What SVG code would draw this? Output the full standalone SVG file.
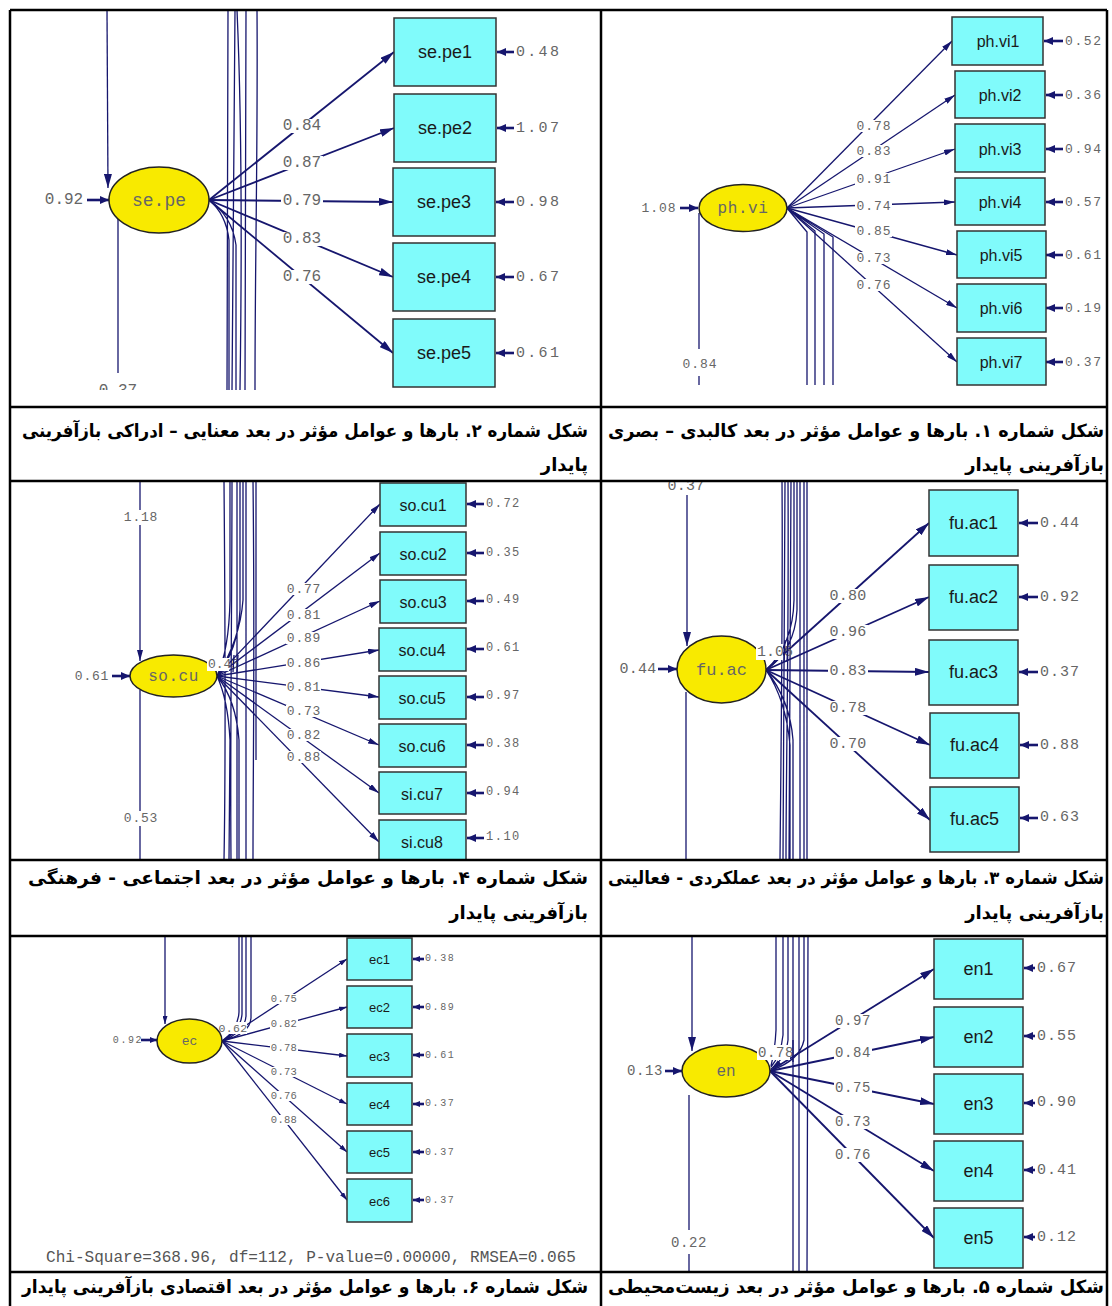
<svg xmlns="http://www.w3.org/2000/svg" width="1112" height="1306" viewBox="0 0 1112 1306">
<style>
.ln{stroke:#16166e;stroke-width:1.3;fill:none}
.fan{stroke:#16166e;stroke-width:1.8;fill:none}
.fan2{stroke:#16166e;stroke-width:1.3;fill:none}
.err{stroke:#16166e;stroke-width:2.6;fill:none}
.box{fill:#80fbfb;stroke:#333;stroke-width:1.5}
.lat{fill:#f8ea00;stroke:#222;stroke-width:1.5}
.num{font-family:"Liberation Mono","Courier New",monospace;fill:#666;dominant-baseline:central}
.lab{font-family:"Liberation Sans",Arial,sans-serif;fill:#1a1a1a;text-anchor:middle;dominant-baseline:central}
.bg{fill:#fff}
.cap{font-family:"DejaVu Sans",sans-serif;font-weight:bold;font-size:18px;fill:#000}
.grid{stroke:#000;stroke-width:2.5;fill:none}
.mid{text-anchor:middle}
</style>
<defs>
<marker id="mA" viewBox="0 0 14 8" refX="14" refY="4" markerWidth="14" markerHeight="8" markerUnits="userSpaceOnUse" orient="auto"><path d="M0,0 L14,4 L0,8 z" fill="#16166e"/></marker>
<marker id="mB" viewBox="0 0 11 6" refX="11" refY="3" markerWidth="11" markerHeight="6" markerUnits="userSpaceOnUse" orient="auto"><path d="M0,0 L11,3 L0,6 z" fill="#16166e"/></marker>
<marker id="mC" viewBox="0 0 8 5" refX="8" refY="2.5" markerWidth="8" markerHeight="5" markerUnits="userSpaceOnUse" orient="auto"><path d="M0,0 L8,2.5 L0,5 z" fill="#16166e"/></marker>
<marker id="mE" viewBox="0 0 9 8" refX="9" refY="4" markerWidth="9" markerHeight="8" markerUnits="userSpaceOnUse" orient="auto"><path d="M0,0 L9,4 L0,8 z" fill="#16166e"/></marker>
<marker id="mF" viewBox="0 0 7 6" refX="7" refY="3" markerWidth="7" markerHeight="6" markerUnits="userSpaceOnUse" orient="auto"><path d="M0,0 L7,3 L0,6 z" fill="#16166e"/></marker>
<clipPath id="c1"><rect x="11" y="11" width="589" height="379"/></clipPath>
<clipPath id="c2"><rect x="602" y="11" width="504" height="395"/></clipPath>
<clipPath id="c3"><rect x="11" y="482" width="589" height="377"/></clipPath>
<clipPath id="c4"><rect x="602" y="482" width="504" height="377"/></clipPath>
<clipPath id="c5"><rect x="11" y="937" width="589" height="334"/></clipPath>
<clipPath id="c6"><rect x="602" y="937" width="504" height="334"/></clipPath>
</defs>
<rect width="1112" height="1306" fill="#fff"/>

<!-- ===== Figure 2 (top-left): se.pe ===== -->
<g id="fig2" clip-path="url(#c1)">
<g id="fig2-connectors">
<path class="ln" d="M228,10 L227,390 M235,10 C234,120 233,250 232,390 M237,10 C241,100 242,250 240,390 M246,10 L245,390 M257,10 C258,150 255,250 255,390 M209,200 Q226,214 229,240 L229,390 M209,200 Q232,216 236,245 L236,390"/>
<line class="ln" x1="107" y1="10" x2="108" y2="188" marker-end="url(#mA)"/>
<line class="ln" x1="118" y1="219" x2="118" y2="373"/>
<line class="err" x1="87" y1="200" x2="109" y2="200" marker-end="url(#mE)"/>
<line class="fan" x1="209" y1="200" x2="394" y2="52" marker-end="url(#mA)"/>
<line class="fan" x1="209" y1="200" x2="394" y2="128" marker-end="url(#mA)"/>
<line class="fan" x1="209" y1="200" x2="393" y2="202" marker-end="url(#mA)"/>
<line class="fan" x1="209" y1="200" x2="393" y2="277" marker-end="url(#mA)"/>
<line class="fan" x1="209" y1="200" x2="393" y2="353" marker-end="url(#mA)"/>
<line class="err" x1="514" y1="52" x2="497" y2="52" marker-end="url(#mE)"/>
<line class="err" x1="514" y1="128" x2="497" y2="128" marker-end="url(#mE)"/>
<line class="err" x1="514" y1="202" x2="496" y2="202" marker-end="url(#mE)"/>
<line class="err" x1="514" y1="277" x2="496" y2="277" marker-end="url(#mE)"/>
<line class="err" x1="514" y1="353" x2="496" y2="353" marker-end="url(#mE)"/>
<g font-size="16">
<rect class="bg" x="281" y="119" width="42" height="14"/><text class="num mid" x="302" y="126">0.84</text>
<rect class="bg" x="281" y="156" width="42" height="14"/><text class="num mid" x="302" y="163">0.87</text>
<rect class="bg" x="281" y="194" width="42" height="14"/><text class="num mid" x="302" y="201">0.79</text>
<rect class="bg" x="281" y="232" width="42" height="14"/><text class="num mid" x="302" y="239">0.83</text>
<rect class="bg" x="281" y="270" width="42" height="14"/><text class="num mid" x="302" y="277">0.76</text>
<text class="num mid" x="64" y="200">0.92</text>
<text class="num mid" x="118" y="391">0.37</text>
</g>
<g font-size="15" letter-spacing="2.3">
<text class="num" x="516" y="52">0.48</text>
<text class="num" x="516" y="128">1.07</text>
<text class="num" x="516" y="202">0.98</text>
<text class="num" x="516" y="277">0.67</text>
<text class="num" x="516" y="353">0.61</text>
</g>
</g>
<g id="se.pe"><ellipse class="lat" cx="159" cy="200" rx="50" ry="33"/><text class="num mid" x="159" y="201" font-size="18">se.pe</text></g>
<g id="se.pe1"><rect class="box" x="394" y="18" width="102" height="68"/><text class="lab" x="445" y="52" font-size="18">se.pe1</text></g>
<g id="se.pe2"><rect class="box" x="394" y="94" width="102" height="68"/><text class="lab" x="445" y="128" font-size="18">se.pe2</text></g>
<g id="se.pe3"><rect class="box" x="393" y="168" width="102" height="68"/><text class="lab" x="444" y="202" font-size="18">se.pe3</text></g>
<g id="se.pe4"><rect class="box" x="393" y="243" width="102" height="68"/><text class="lab" x="444" y="277" font-size="18">se.pe4</text></g>
<g id="se.pe5"><rect class="box" x="393" y="319" width="102" height="68"/><text class="lab" x="444" y="353" font-size="18">se.pe5</text></g>
</g>

<!-- ===== Figure 1 (top-right): ph.vi ===== -->
<g id="fig1" clip-path="url(#c2)">
<g id="fig1-connectors">
<path class="ln" d="M787,208 L807,232 L807,385 M787,208 L815,231 L815,385 M787,208 L824,234 L824,385 M787,208 L833,237 L833,385"/>
<line class="ln" x1="699" y1="213" x2="699" y2="385"/>
<line class="err" x1="680" y1="208" x2="698" y2="208" marker-end="url(#mE)"/>
<line class="fan2" x1="787" y1="208" x2="952" y2="41" marker-end="url(#mB)"/>
<line class="fan2" x1="787" y1="208" x2="955" y2="95" marker-end="url(#mB)"/>
<line class="fan2" x1="787" y1="208" x2="955" y2="149" marker-end="url(#mB)"/>
<line class="fan2" x1="787" y1="208" x2="955" y2="202" marker-end="url(#mB)"/>
<line class="fan2" x1="787" y1="208" x2="957" y2="255" marker-end="url(#mB)"/>
<line class="fan2" x1="787" y1="208" x2="957" y2="308" marker-end="url(#mB)"/>
<line class="fan2" x1="787" y1="208" x2="957" y2="362" marker-end="url(#mB)"/>
<line class="err" x1="1063" y1="41" x2="1044" y2="41" marker-end="url(#mE)"/>
<line class="err" x1="1063" y1="95" x2="1046" y2="95" marker-end="url(#mE)"/>
<line class="err" x1="1063" y1="149" x2="1046" y2="149" marker-end="url(#mE)"/>
<line class="err" x1="1063" y1="202" x2="1046" y2="202" marker-end="url(#mE)"/>
<line class="err" x1="1063" y1="255" x2="1046" y2="255" marker-end="url(#mE)"/>
<line class="err" x1="1063" y1="308" x2="1046" y2="308" marker-end="url(#mE)"/>
<line class="err" x1="1063" y1="362" x2="1046" y2="362" marker-end="url(#mE)"/>
<g font-size="13" letter-spacing="1">
<rect class="bg" x="855" y="120" width="37" height="12"/><text class="num mid" x="874" y="126">0.78</text>
<rect class="bg" x="855" y="145" width="37" height="12"/><text class="num mid" x="874" y="151">0.83</text>
<rect class="bg" x="855" y="173" width="37" height="12"/><text class="num mid" x="874" y="179">0.91</text>
<rect class="bg" x="855" y="200" width="37" height="12"/><text class="num mid" x="874" y="206">0.74</text>
<rect class="bg" x="855" y="225" width="37" height="12"/><text class="num mid" x="874" y="231">0.85</text>
<rect class="bg" x="855" y="252" width="37" height="12"/><text class="num mid" x="874" y="258">0.73</text>
<rect class="bg" x="855" y="279" width="37" height="12"/><text class="num mid" x="874" y="285">0.76</text>
<text class="num mid" x="659" y="208">1.08</text>
<rect class="bg" x="680" y="349" width="38" height="27"/><text class="num mid" x="700" y="364">0.84</text>
</g>
<g font-size="13" letter-spacing="1.6">
<text class="num" x="1065" y="41">0.52</text>
<text class="num" x="1065" y="95">0.36</text>
<text class="num" x="1065" y="149">0.94</text>
<text class="num" x="1065" y="202">0.57</text>
<text class="num" x="1065" y="255">0.61</text>
<text class="num" x="1065" y="308">0.19</text>
<text class="num" x="1065" y="362">0.37</text>
</g>
</g>
<g id="ph.vi"><ellipse class="lat" cx="743" cy="208" rx="44" ry="23.5"/><text class="num mid" x="743" y="209" font-size="16" letter-spacing="0.6">ph.vi</text></g>
<g id="ph.vi1"><rect class="box" x="952" y="17" width="91" height="48"/><text class="lab" x="998" y="41" font-size="16">ph.vi1</text></g>
<g id="ph.vi2"><rect class="box" x="955" y="71" width="90" height="47"/><text class="lab" x="1000" y="95" font-size="16">ph.vi2</text></g>
<g id="ph.vi3"><rect class="box" x="955" y="124" width="90" height="48"/><text class="lab" x="1000" y="149" font-size="16">ph.vi3</text></g>
<g id="ph.vi4"><rect class="box" x="955" y="178" width="90" height="47"/><text class="lab" x="1000" y="202" font-size="16">ph.vi4</text></g>
<g id="ph.vi5"><rect class="box" x="957" y="231" width="89" height="47"/><text class="lab" x="1001" y="255" font-size="16">ph.vi5</text></g>
<g id="ph.vi6"><rect class="box" x="957" y="284" width="89" height="48"/><text class="lab" x="1001" y="308" font-size="16">ph.vi6</text></g>
<g id="ph.vi7"><rect class="box" x="957" y="338" width="89" height="47"/><text class="lab" x="1001" y="362" font-size="16">ph.vi7</text></g>
</g>

<!-- ===== Figure 4 (middle-left): so.cu ===== -->
<g id="fig4" clip-path="url(#c3)">
<g id="fig4-connectors">
<path class="ln" d="M224,481 C225,600 226,750 224,860 M232,481 C232,600 230,750 231,860 M237,481 C238,650 236,760 237,860 M246,481 L246,860 M253,481 C255,650 253,760 253,860 M256,481 L256,760 M230,481 L230,600 Q229,650 217,676 M240,481 L240,610 Q238,650 217,676 M243,481 L243,600 Q240,640 217,676 M217,676 Q228,700 230,740 L229,860 M217,676 Q236,700 239,740 L239,860"/>
<line class="ln" x1="140" y1="481" x2="140" y2="661" marker-end="url(#mB)"/>
<line class="ln" x1="140" y1="690" x2="140" y2="860"/>
<line class="err" x1="112" y1="676" x2="130" y2="676" marker-end="url(#mE)"/>
<line class="fan2" x1="217" y1="676" x2="380" y2="504" marker-end="url(#mB)"/>
<line class="fan2" x1="217" y1="676" x2="380" y2="553" marker-end="url(#mB)"/>
<line class="fan2" x1="217" y1="676" x2="380" y2="601" marker-end="url(#mB)"/>
<line class="fan2" x1="217" y1="676" x2="379" y2="650" marker-end="url(#mB)"/>
<line class="fan2" x1="217" y1="676" x2="379" y2="697" marker-end="url(#mB)"/>
<line class="fan2" x1="217" y1="676" x2="379" y2="745" marker-end="url(#mB)"/>
<line class="fan2" x1="217" y1="676" x2="379" y2="793" marker-end="url(#mB)"/>
<line class="fan2" x1="217" y1="676" x2="379" y2="842" marker-end="url(#mB)"/>
<line class="err" x1="484" y1="504" x2="467" y2="504" marker-end="url(#mE)"/>
<line class="err" x1="484" y1="553" x2="467" y2="553" marker-end="url(#mE)"/>
<line class="err" x1="484" y1="601" x2="467" y2="601" marker-end="url(#mE)"/>
<line class="err" x1="484" y1="649" x2="467" y2="649" marker-end="url(#mE)"/>
<line class="err" x1="484" y1="697" x2="467" y2="697" marker-end="url(#mE)"/>
<line class="err" x1="484" y1="745" x2="467" y2="745" marker-end="url(#mE)"/>
<line class="err" x1="484" y1="793" x2="467" y2="793" marker-end="url(#mE)"/>
<line class="err" x1="484" y1="838" x2="467" y2="838" marker-end="url(#mE)"/>
<g font-size="13" letter-spacing="0.8">
<rect class="bg" x="286" y="583" width="35" height="12"/><text class="num mid" x="304" y="589">0.77</text>
<rect class="bg" x="286" y="609" width="35" height="12"/><text class="num mid" x="304" y="615">0.81</text>
<rect class="bg" x="286" y="632" width="35" height="12"/><text class="num mid" x="304" y="638">0.89</text>
<rect class="bg" x="286" y="657" width="35" height="12"/><text class="num mid" x="304" y="663">0.86</text>
<rect class="bg" x="286" y="681" width="35" height="12"/><text class="num mid" x="304" y="687">0.81</text>
<rect class="bg" x="286" y="705" width="35" height="12"/><text class="num mid" x="304" y="711">0.73</text>
<rect class="bg" x="286" y="729" width="35" height="12"/><text class="num mid" x="304" y="735">0.82</text>
<rect class="bg" x="286" y="751" width="35" height="12"/><text class="num mid" x="304" y="757">0.88</text>
<text class="num mid" x="92" y="676">0.61</text>
<rect class="bg" x="122" y="510" width="36" height="15"/><text class="num mid" x="141" y="517">1.18</text>
<rect class="bg" x="122" y="811" width="36" height="15"/><text class="num mid" x="141" y="818">0.53</text>
</g>
<g font-size="12" letter-spacing="1.5">
<text class="num" x="486" y="504">0.72</text>
<text class="num" x="486" y="553">0.35</text>
<text class="num" x="486" y="600">0.49</text>
<text class="num" x="486" y="648">0.61</text>
<text class="num" x="486" y="696">0.97</text>
<text class="num" x="486" y="744">0.38</text>
<text class="num" x="486" y="792">0.94</text>
<text class="num" x="486" y="837">1.10</text>
</g>
</g>
<g id="so.cu"><ellipse class="lat" cx="173.5" cy="676" rx="43.5" ry="21"/><text class="num mid" x="173.5" y="677" font-size="16" letter-spacing="0.5">so.cu</text></g>
<g id="fig4-corr-label" font-size="13"><rect class="bg" x="207" y="658" width="22" height="13"/><text class="num" x="208" y="664">0.45</text><path class="ln" d="M234,655 L233,672 M238,655 L237,672"/></g>
<g id="so.cu1"><rect class="box" x="380" y="483" width="86" height="43"/><text class="lab" x="423" y="505" font-size="16">so.cu1</text></g>
<g id="so.cu2"><rect class="box" x="380" y="532" width="86" height="43"/><text class="lab" x="423" y="554" font-size="16">so.cu2</text></g>
<g id="so.cu3"><rect class="box" x="380" y="580" width="86" height="43"/><text class="lab" x="423" y="602" font-size="16">so.cu3</text></g>
<g id="so.cu4"><rect class="box" x="379" y="628" width="87" height="43"/><text class="lab" x="422" y="650" font-size="16">so.cu4</text></g>
<g id="so.cu5"><rect class="box" x="379" y="676" width="87" height="43"/><text class="lab" x="422" y="698" font-size="16">so.cu5</text></g>
<g id="so.cu6"><rect class="box" x="379" y="724" width="87" height="43"/><text class="lab" x="422" y="746" font-size="16">so.cu6</text></g>
<g id="si.cu7"><rect class="box" x="379" y="772" width="87" height="42"/><text class="lab" x="422" y="794" font-size="16">si.cu7</text></g>
<g id="si.cu8"><rect class="box" x="379" y="820" width="87" height="43"/><text class="lab" x="422" y="842" font-size="16">si.cu8</text></g>
</g>

<!-- ===== Figure 3 (middle-right): fu.ac ===== -->
<g id="fig3" clip-path="url(#c4)">
<g id="fig3-connectors">
<path class="ln" d="M782,481 C783,600 781,750 780,860 M785,481 L783,860 M788,481 C789,650 786,760 786,860 M791,481 L789,860 M794,481 L794,600 Q793,645 766,670 M797,481 L797,610 Q795,650 766,670 M800,481 L800,860 M804,481 L804,860 M807,481 L807,860 M766,670 Q790,700 793,740 L793,860 M766,670 Q786,700 790,745 L790,860"/>
<line class="ln" x1="687" y1="495" x2="687" y2="646" marker-end="url(#mA)"/>
<line class="ln" x1="686" y1="692" x2="686" y2="860"/>
<line class="err" x1="658" y1="669" x2="677" y2="669" marker-end="url(#mE)"/>
<line class="fan" x1="766" y1="670" x2="929" y2="523" marker-end="url(#mA)"/>
<line class="fan" x1="766" y1="670" x2="929" y2="597" marker-end="url(#mA)"/>
<line class="fan" x1="766" y1="670" x2="929" y2="672" marker-end="url(#mA)"/>
<line class="fan" x1="766" y1="670" x2="930" y2="745" marker-end="url(#mA)"/>
<line class="fan" x1="766" y1="670" x2="930" y2="820" marker-end="url(#mA)"/>
<line class="err" x1="1038" y1="523" x2="1019" y2="523" marker-end="url(#mE)"/>
<line class="err" x1="1038" y1="597" x2="1019" y2="597" marker-end="url(#mE)"/>
<line class="err" x1="1038" y1="672" x2="1019" y2="672" marker-end="url(#mE)"/>
<line class="err" x1="1038" y1="745" x2="1020" y2="745" marker-end="url(#mE)"/>
<line class="err" x1="1038" y1="818" x2="1020" y2="818" marker-end="url(#mE)"/>
<g font-size="15" letter-spacing="0.3">
<rect class="bg" x="828" y="589" width="40" height="14"/><text class="num mid" x="848" y="596">0.80</text>
<rect class="bg" x="828" y="625" width="40" height="14"/><text class="num mid" x="848" y="632">0.96</text>
<rect class="bg" x="828" y="664" width="40" height="14"/><text class="num mid" x="848" y="671">0.83</text>
<rect class="bg" x="828" y="701" width="40" height="14"/><text class="num mid" x="848" y="708">0.78</text>
<rect class="bg" x="828" y="737" width="40" height="14"/><text class="num mid" x="848" y="744">0.70</text>
<text class="num mid" x="638" y="669">0.44</text>
<text class="num mid" x="686" y="486">0.37</text>
</g>
<g font-size="15" letter-spacing="1">
<text class="num" x="1040" y="523">0.44</text>
<text class="num" x="1040" y="597">0.92</text>
<text class="num" x="1040" y="672">0.37</text>
<text class="num" x="1040" y="745">0.88</text>
<text class="num" x="1040" y="817">0.63</text>
</g>
</g>
<g id="fu.ac"><ellipse class="lat" cx="721.5" cy="669.5" rx="44.5" ry="33.5"/><text class="num mid" x="721.5" y="670" font-size="17">fu.ac</text></g>
<g id="fig3-corr-label" font-size="15"><rect class="bg" x="756" y="644" width="27" height="16"/><text class="num" x="757" y="652">1.05</text><path class="ln" d="M785,640 L784,662 M788,640 L787,662"/></g>
<g id="fu.ac1"><rect class="box" x="929" y="490" width="89" height="66"/><text class="lab" x="973.5" y="523" font-size="18">fu.ac1</text></g>
<g id="fu.ac2"><rect class="box" x="929" y="565" width="89" height="65"/><text class="lab" x="973.5" y="597" font-size="18">fu.ac2</text></g>
<g id="fu.ac3"><rect class="box" x="929" y="640" width="89" height="65"/><text class="lab" x="973.5" y="672" font-size="18">fu.ac3</text></g>
<g id="fu.ac4"><rect class="box" x="930" y="713" width="89" height="65"/><text class="lab" x="974.5" y="745" font-size="18">fu.ac4</text></g>
<g id="fu.ac5"><rect class="box" x="930" y="787" width="89" height="65"/><text class="lab" x="974.5" y="819" font-size="18">fu.ac5</text></g>
</g>

<!-- ===== Figure 6 (bottom-left): ec ===== -->
<g id="fig6" clip-path="url(#c5)">
<g id="fig6-connectors">
<path class="ln" d="M239,937 L239,1012 Q238,1030 222,1041 M242,937 L242,1014 Q241,1030 222,1041 M246,937 L246,1016 Q245,1032 222,1041 M251,937 L251,1018 Q250,1034 222,1041"/>
<line class="ln" x1="165" y1="937" x2="165" y2="1024" marker-end="url(#mC)"/>
<line class="err" x1="141" y1="1040" x2="157" y2="1040" marker-end="url(#mF)"/>
<line class="ln" x1="222" y1="1041" x2="347" y2="959" marker-end="url(#mC)"/>
<line class="ln" x1="222" y1="1041" x2="347" y2="1007" marker-end="url(#mC)"/>
<line class="ln" x1="222" y1="1041" x2="347" y2="1056" marker-end="url(#mC)"/>
<line class="ln" x1="222" y1="1041" x2="347" y2="1104" marker-end="url(#mC)"/>
<line class="ln" x1="222" y1="1041" x2="347" y2="1152" marker-end="url(#mC)"/>
<line class="ln" x1="222" y1="1041" x2="347" y2="1200" marker-end="url(#mC)"/>
<line class="err" x1="424" y1="959" x2="413" y2="959" marker-end="url(#mF)"/>
<line class="err" x1="424" y1="1007" x2="413" y2="1007" marker-end="url(#mF)"/>
<line class="err" x1="424" y1="1055" x2="413" y2="1055" marker-end="url(#mF)"/>
<line class="err" x1="424" y1="1104" x2="413" y2="1104" marker-end="url(#mF)"/>
<line class="err" x1="424" y1="1152" x2="413" y2="1152" marker-end="url(#mF)"/>
<line class="err" x1="424" y1="1200" x2="413" y2="1200" marker-end="url(#mF)"/>
<g font-size="10.5" letter-spacing="0.3">
<rect class="bg" x="270" y="994" width="28" height="10"/><text class="num mid" x="284" y="999">0.75</text>
<rect class="bg" x="270" y="1019" width="28" height="10"/><text class="num mid" x="284" y="1024">0.82</text>
<rect class="bg" x="270" y="1043" width="28" height="10"/><text class="num mid" x="284" y="1048">0.78</text>
<rect class="bg" x="270" y="1067" width="28" height="10"/><text class="num mid" x="284" y="1072">0.73</text>
<rect class="bg" x="270" y="1091" width="28" height="10"/><text class="num mid" x="284" y="1096">0.76</text>
<rect class="bg" x="270" y="1115" width="28" height="10"/><text class="num mid" x="284" y="1120">0.88</text>
<rect class="bg" x="220" y="1022" width="27" height="12"/><text class="num mid" x="233" y="1028" font-size="11.5">0.62</text>
</g>
<g font-size="10" letter-spacing="1.6">
<text class="num mid" x="128" y="1040">0.92</text>
<text class="num" x="425" y="958">0.38</text>
<text class="num" x="425" y="1007">0.89</text>
<text class="num" x="425" y="1055">0.61</text>
<text class="num" x="425" y="1103">0.37</text>
<text class="num" x="425" y="1152">0.37</text>
<text class="num" x="425" y="1200">0.37</text>
</g>
<text x="46" y="1257" font-family="Liberation Mono, Courier New, monospace" font-size="16.5" fill="#555" dominant-baseline="central" textLength="530" lengthAdjust="spacingAndGlyphs">Chi-Square=368.96, df=112, P-value=0.00000, RMSEA=0.065</text>
</g>
<g id="ec"><ellipse class="lat" cx="189.5" cy="1041" rx="32.5" ry="22"/><text class="num mid" x="189.5" y="1041" font-size="13">ec</text></g>
<g id="ec1"><rect class="box" x="347" y="938" width="65" height="42"/><text class="lab" x="379.5" y="959" font-size="13">ec1</text></g>
<g id="ec2"><rect class="box" x="347" y="986" width="65" height="42"/><text class="lab" x="379.5" y="1007" font-size="13">ec2</text></g>
<g id="ec3"><rect class="box" x="347" y="1034" width="65" height="43"/><text class="lab" x="379.5" y="1056" font-size="13">ec3</text></g>
<g id="ec4"><rect class="box" x="347" y="1083" width="65" height="42"/><text class="lab" x="379.5" y="1104" font-size="13">ec4</text></g>
<g id="ec5"><rect class="box" x="347" y="1131" width="65" height="42"/><text class="lab" x="379.5" y="1152" font-size="13">ec5</text></g>
<g id="ec6"><rect class="box" x="347" y="1179" width="65" height="43"/><text class="lab" x="379.5" y="1201" font-size="13">ec6</text></g>
</g>

<!-- ===== Figure 5 (bottom-right): en ===== -->
<g id="fig5" clip-path="url(#c6)">
<g id="fig5-connectors">
<path class="ln" d="M776,937 L776,1030 Q775,1050 771,1066 M783,937 L783,1035 Q781,1055 771,1067 M799,937 L799,1272 M804,937 L804,1040 Q800,1060 772,1070 M808,937 L807,1272 M793,937 L793,1272"/>
<path class="ln" d="M788,937 L788,1040 Q786,1058 771,1069" marker-end="url(#mB)"/>
<line class="ln" x1="692" y1="937" x2="692" y2="1051" marker-end="url(#mA)"/>
<line class="ln" x1="689" y1="1095" x2="689" y2="1272"/>
<line class="err" x1="665" y1="1071" x2="682" y2="1071" marker-end="url(#mE)"/>
<line class="fan" x1="770" y1="1071" x2="934" y2="969" marker-end="url(#mA)"/>
<line class="fan" x1="770" y1="1071" x2="934" y2="1037" marker-end="url(#mA)"/>
<line class="fan" x1="770" y1="1071" x2="934" y2="1104" marker-end="url(#mA)"/>
<line class="fan" x1="770" y1="1071" x2="934" y2="1171" marker-end="url(#mA)"/>
<line class="fan" x1="770" y1="1071" x2="934" y2="1238" marker-end="url(#mA)"/>
<line class="err" x1="1035" y1="968" x2="1024" y2="968" marker-end="url(#mE)"/>
<line class="err" x1="1035" y1="1036" x2="1024" y2="1036" marker-end="url(#mE)"/>
<line class="err" x1="1035" y1="1103" x2="1024" y2="1103" marker-end="url(#mE)"/>
<line class="err" x1="1035" y1="1170" x2="1024" y2="1170" marker-end="url(#mE)"/>
<line class="err" x1="1035" y1="1237" x2="1024" y2="1237" marker-end="url(#mE)"/>
<g font-size="14" letter-spacing="0.6">
<rect class="bg" x="834" y="1014" width="38" height="14"/><text class="num mid" x="853" y="1021">0.97</text>
<rect class="bg" x="834" y="1046" width="38" height="14"/><text class="num mid" x="853" y="1053">0.84</text>
<rect class="bg" x="834" y="1081" width="38" height="14"/><text class="num mid" x="853" y="1088">0.75</text>
<rect class="bg" x="834" y="1115" width="38" height="14"/><text class="num mid" x="853" y="1122">0.73</text>
<rect class="bg" x="834" y="1148" width="38" height="14"/><text class="num mid" x="853" y="1155">0.76</text>
<rect class="bg" x="670" y="1230" width="38" height="24"/><text class="num mid" x="689" y="1243">0.22</text>
<text class="num mid" x="645" y="1071">0.13</text>
</g>
<g font-size="15" letter-spacing="1">
<text class="num" x="1037" y="968">0.67</text>
<text class="num" x="1037" y="1036">0.55</text>
<text class="num" x="1037" y="1102">0.90</text>
<text class="num" x="1037" y="1170">0.41</text>
<text class="num" x="1037" y="1237">0.12</text>
</g>
</g>
<g id="en"><ellipse class="lat" cx="726" cy="1071" rx="44" ry="26"/><text class="num mid" x="726" y="1072" font-size="16">en</text></g>
<g id="fig5-corr-label" font-size="14" letter-spacing="0.6"><rect class="bg" x="757" y="1045" width="33" height="15"/><text class="num" x="758" y="1053">0.78</text><path class="ln" d="M793,1040 L793,1062"/></g>
<g id="en1"><rect class="box" x="934" y="939" width="89" height="60"/><text class="lab" x="978.5" y="969" font-size="18">en1</text></g>
<g id="en2"><rect class="box" x="934" y="1007" width="89" height="60"/><text class="lab" x="978.5" y="1037" font-size="18">en2</text></g>
<g id="en3"><rect class="box" x="934" y="1074" width="89" height="60"/><text class="lab" x="978.5" y="1104" font-size="18">en3</text></g>
<g id="en4"><rect class="box" x="934" y="1141" width="89" height="60"/><text class="lab" x="978.5" y="1171" font-size="18">en4</text></g>
<g id="en5"><rect class="box" x="934" y="1208" width="89" height="60"/><text class="lab" x="978.5" y="1238" font-size="18">en5</text></g>
</g>

<!-- ===== Table grid ===== -->
<g id="table-grid">
<path class="grid" d="M10,10 L1107,10 M10,10 L10,1306 M1107,10 L1107,1306 M601,10 L601,1306 M10,407 L1107,407 M10,481 L1107,481 M10,860 L1107,860 M10,936 L1107,936 M10,1272 L1107,1272"/>
</g>

<!-- ===== Captions ===== -->
<g id="captions" class="cap">
<text x="1104" y="437" direction="rtl" text-anchor="start" textLength="496" lengthAdjust="spacingAndGlyphs">شکل شماره ۱. بارها و عوامل مؤثر در بعد کالبدی – بصری</text>
<text x="1104" y="471" direction="rtl" text-anchor="start">بازآفرینی پایدار</text>
<text x="588" y="437" direction="rtl" text-anchor="start" textLength="566" lengthAdjust="spacingAndGlyphs">شکل شماره ۲. بارها و عوامل مؤثر در بعد معنایی – ادراکی بازآفرینی</text>
<text x="588" y="471" direction="rtl" text-anchor="start">پایدار</text>
<text x="1104" y="884" direction="rtl" text-anchor="start" textLength="496" lengthAdjust="spacingAndGlyphs">شکل شماره ۳. بارها و عوامل مؤثر در بعد عملکردی - فعالیتی</text>
<text x="1104" y="919" direction="rtl" text-anchor="start">بازآفرینی پایدار</text>
<text x="588" y="884" direction="rtl" text-anchor="start" textLength="560" lengthAdjust="spacingAndGlyphs">شکل شماره ۴. بارها و عوامل مؤثر در بعد اجتماعی - فرهنگی</text>
<text x="588" y="919" direction="rtl" text-anchor="start">بازآفرینی پایدار</text>
<text x="1104" y="1293" direction="rtl" text-anchor="start" textLength="496" lengthAdjust="spacingAndGlyphs">شکل شماره ۵.  بارها و عوامل مؤثر در بعد زیست‌محیطی</text>
<text x="588" y="1293" direction="rtl" text-anchor="start" textLength="566" lengthAdjust="spacingAndGlyphs">شکل شماره ۶. بارها و عوامل مؤثر در بعد اقتصادی بازآفرینی پایدار</text>
</g>
</svg>
